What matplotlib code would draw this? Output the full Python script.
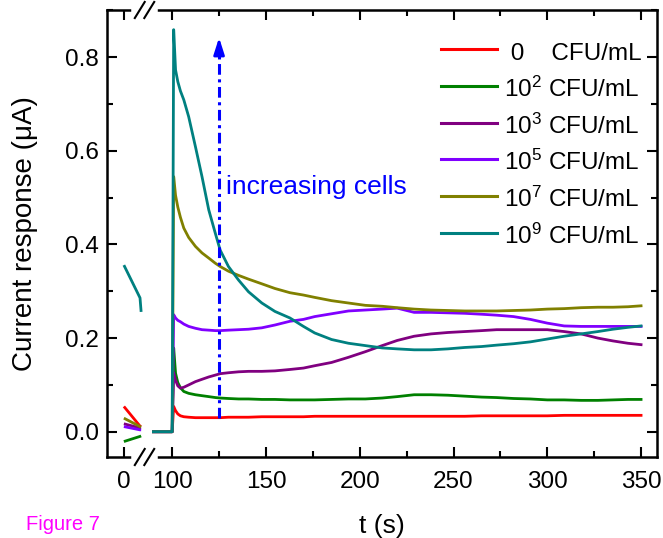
import numpy as np
import matplotlib
matplotlib.use("Agg")
import matplotlib.pyplot as plt
from matplotlib.ticker import FixedLocator, MultipleLocator, FormatStrFormatter

plt.rcParams['font.family'] = ['Liberation Sans', 'DejaVu Sans']
plt.rcParams['mathtext.fontset'] = 'custom'
plt.rcParams['mathtext.rm'] = 'Liberation Sans'
plt.rcParams['mathtext.it'] = 'Liberation Sans:italic'

# labels / colours of the six concentrations
labels = [" 0    CFU/mL", r"10$^{2}$ CFU/mL", r"10$^{3}$ CFU/mL",
          r"10$^{5}$ CFU/mL", r"10$^{7}$ CFU/mL", r"10$^{9}$ CFU/mL"]
colors = ["#ff0000", "#008000", "#800080", "#8000ff", "#808000", "#008080"]

# segment before the break (t = 0 .. 9 s)
t_left = [0, 8.6, 9.2]
left_red = [0.054, 0.012, 0.011]
left_green = [-0.021, -0.010, -0.009]
left_purple = [0.017, 0.008, 0.008]
left_violet = [0.011, 0.004, 0.004]
left_olive = [0.029, 0.011, 0.010]
left_teal = [0.356, 0.286, 0.256]

# segment after the break
t_right = [90, 100, 100.8, 101.8, 103, 104.4, 106.2, 108.8, 112.4, 115.9,
           119.5, 123, 125.6, 130, 135.4, 140.7, 147.8, 154.8, 162.8, 170,
           176, 185, 194, 203, 212, 220, 229, 238, 247, 256,
           265, 273, 282, 291, 300, 309, 318, 327, 335, 343, 350]
red = [0, 0, 0.054, 0.045, 0.038, 0.034, 0.032, 0.031, 0.030, 0.030,
       0.030, 0.030, 0.030, 0.031, 0.031, 0.031, 0.032, 0.032, 0.032, 0.032,
       0.033, 0.033, 0.033, 0.033, 0.033, 0.033, 0.033, 0.033, 0.033, 0.033,
       0.034, 0.034, 0.034, 0.034, 0.034, 0.035, 0.035, 0.035, 0.035, 0.035, 0.035]
green = [0, 0, 0.179, 0.125, 0.105, 0.094, 0.086, 0.082, 0.079, 0.077,
         0.075, 0.073, 0.072, 0.071, 0.070, 0.070, 0.069, 0.069, 0.068, 0.068,
         0.068, 0.069, 0.070, 0.070, 0.072, 0.075, 0.079, 0.079, 0.078, 0.076,
         0.074, 0.073, 0.071, 0.070, 0.068, 0.068, 0.067, 0.067, 0.068, 0.069, 0.069]
purple = [0, 0, 0.126, 0.110, 0.098, 0.093, 0.095, 0.100, 0.107, 0.112,
          0.117, 0.121, 0.124, 0.126, 0.128, 0.129, 0.129, 0.130, 0.133, 0.136,
          0.141, 0.148, 0.159, 0.171, 0.184, 0.195, 0.204, 0.209, 0.212, 0.214,
          0.216, 0.218, 0.218, 0.218, 0.218, 0.214, 0.209, 0.200, 0.194, 0.189, 0.186]
violet = [0, 0, 0.250, 0.243, 0.238, 0.235, 0.230, 0.225, 0.221, 0.218,
          0.217, 0.216, 0.216, 0.217, 0.218, 0.219, 0.222, 0.228, 0.236, 0.240,
          0.246, 0.252, 0.258, 0.260, 0.262, 0.264, 0.255, 0.255, 0.254, 0.253,
          0.251, 0.249, 0.246, 0.240, 0.232, 0.226, 0.225, 0.225, 0.225, 0.225, 0.225]
olive = [0, 0, 0.545, 0.505, 0.480, 0.458, 0.435, 0.415, 0.396, 0.382,
         0.371, 0.360, 0.353, 0.343, 0.334, 0.326, 0.316, 0.306, 0.297, 0.292,
         0.287, 0.280, 0.275, 0.270, 0.268, 0.265, 0.262, 0.260, 0.259, 0.258,
         0.258, 0.258, 0.259, 0.260, 0.262, 0.263, 0.265, 0.266, 0.266, 0.267, 0.269]
teal = [0, 0, 0.859, 0.773, 0.748, 0.728, 0.709, 0.673, 0.609, 0.545,
        0.474, 0.424, 0.388, 0.353, 0.324, 0.299, 0.275, 0.257, 0.243, 0.225,
        0.211, 0.197, 0.189, 0.184, 0.179, 0.177, 0.175, 0.175, 0.177, 0.180,
        0.182, 0.185, 0.188, 0.192, 0.198, 0.204, 0.209, 0.214, 0.219, 0.223, 0.226]

left_sets = [left_red, left_green, left_purple, left_violet, left_olive, left_teal]
right_sets = [red, green, purple, violet, olive, teal]

# broken time axis: squeeze 11 .. 86 s to almost nothing
B0, B1, EPS = 11.0, 86.0, 0.01
XMIN, XMAX = -9, 358.5


def fwd(t):
    t = np.asarray(t, dtype=float)
    return t - np.clip(t - B0, 0, B1 - B0) * (1 - EPS)


def inv(u):
    u = np.asarray(u, dtype=float)
    g = (B1 - B0) * EPS
    return np.where(u <= B0, u,
                    np.where(u <= B0 + g, B0 + (u - B0) / EPS,
                             u + (B1 - B0) * (1 - EPS)))


fig = plt.figure(figsize=(6.63, 5.38), dpi=100)
ax = fig.add_axes([107 / 663, 1 - 457 / 538, 550 / 663, 447 / 538])
ax.set_xscale('function', functions=(fwd, inv))

for lv, rv, c, lab in zip(left_sets, right_sets, colors, labels):
    ax.plot(t_left, lv, color=c, lw=2.0, solid_capstyle='butt')
    ax.plot(t_right, rv, color=c, lw=2.0, label=lab)

# arrow "increasing cells"
ax.plot([125, 125], [0.03, 0.815], color='#0000ff', lw=2.2,
        linestyle=(0, (3.5, 1.5, 1, 1.5)))
ax.annotate("", xy=(125, 0.848), xytext=(125, 0.80),
            arrowprops=dict(arrowstyle='-|>,head_length=1.0,head_width=0.32',
                            color='#0000ff', lw=2))
ax.text(128.5, 0.523, "increasing cells", color='#0000ff', fontsize=19,
        va='center', ha='left')

ax.set_xlim(XMIN, XMAX)
ax.set_ylim(-0.054, 0.901)
ax.xaxis.set_major_locator(FixedLocator([0, 100, 150, 200, 250, 300, 350]))
ax.xaxis.set_minor_locator(FixedLocator([125, 175, 225, 275, 325]))
ax.yaxis.set_major_locator(MultipleLocator(0.2))
ax.yaxis.set_minor_locator(MultipleLocator(0.1))
ax.yaxis.set_major_formatter(FormatStrFormatter('%.1f'))

ax.tick_params(which='both', direction='in', top=True, right=True, width=1.5,
               labelsize=17.5)
ax.tick_params(which='major', length=7)
ax.tick_params(which='minor', length=4)
ax.tick_params(axis='x', which='major', pad=10)
ax.tick_params(axis='y', which='major', pad=6)
for s in ax.spines.values():
    s.set_linewidth(1.8)

ax.set_xlabel("t (s)", fontsize=19, labelpad=15)
ax.set_ylabel("Current response (\u03bcA)", fontsize=20, labelpad=19)

# break marks on top and bottom spines (axes fraction)
span = fwd(XMAX) - fwd(XMIN)
xb = (fwd(B0) - fwd(XMIN)) / span
dx = 9.5 / 550
for y in (0, 1):
    ax.plot([xb - 1.1 * dx, xb + 1.1 * dx], [y, y], color='white', lw=4,
            transform=ax.transAxes, clip_on=False, zorder=5)
    for xc in (xb - dx / 2, xb + dx / 2):
        ax.plot([xc - 0.009, xc + 0.009], [y - 0.018, y + 0.018],
                color='black', lw=1.5, transform=ax.transAxes,
                clip_on=False, zorder=6)

leg = ax.legend(loc='upper right', bbox_to_anchor=(0.972, 0.937),
                frameon=False, fontsize=17.5, handlelength=2.3,
                handletextpad=0.3, handleheight=1.35, labelspacing=0.39,
                borderaxespad=0, borderpad=0)
for h in leg.get_lines():
    h.set_linewidth(2.2)

fig.text(26 / 663, 1 - 525 / 538, "Figure 7", color='#ff00ff', fontsize=14.5,
         va='center', ha='left')

fig.savefig("out.png", dpi=100)
